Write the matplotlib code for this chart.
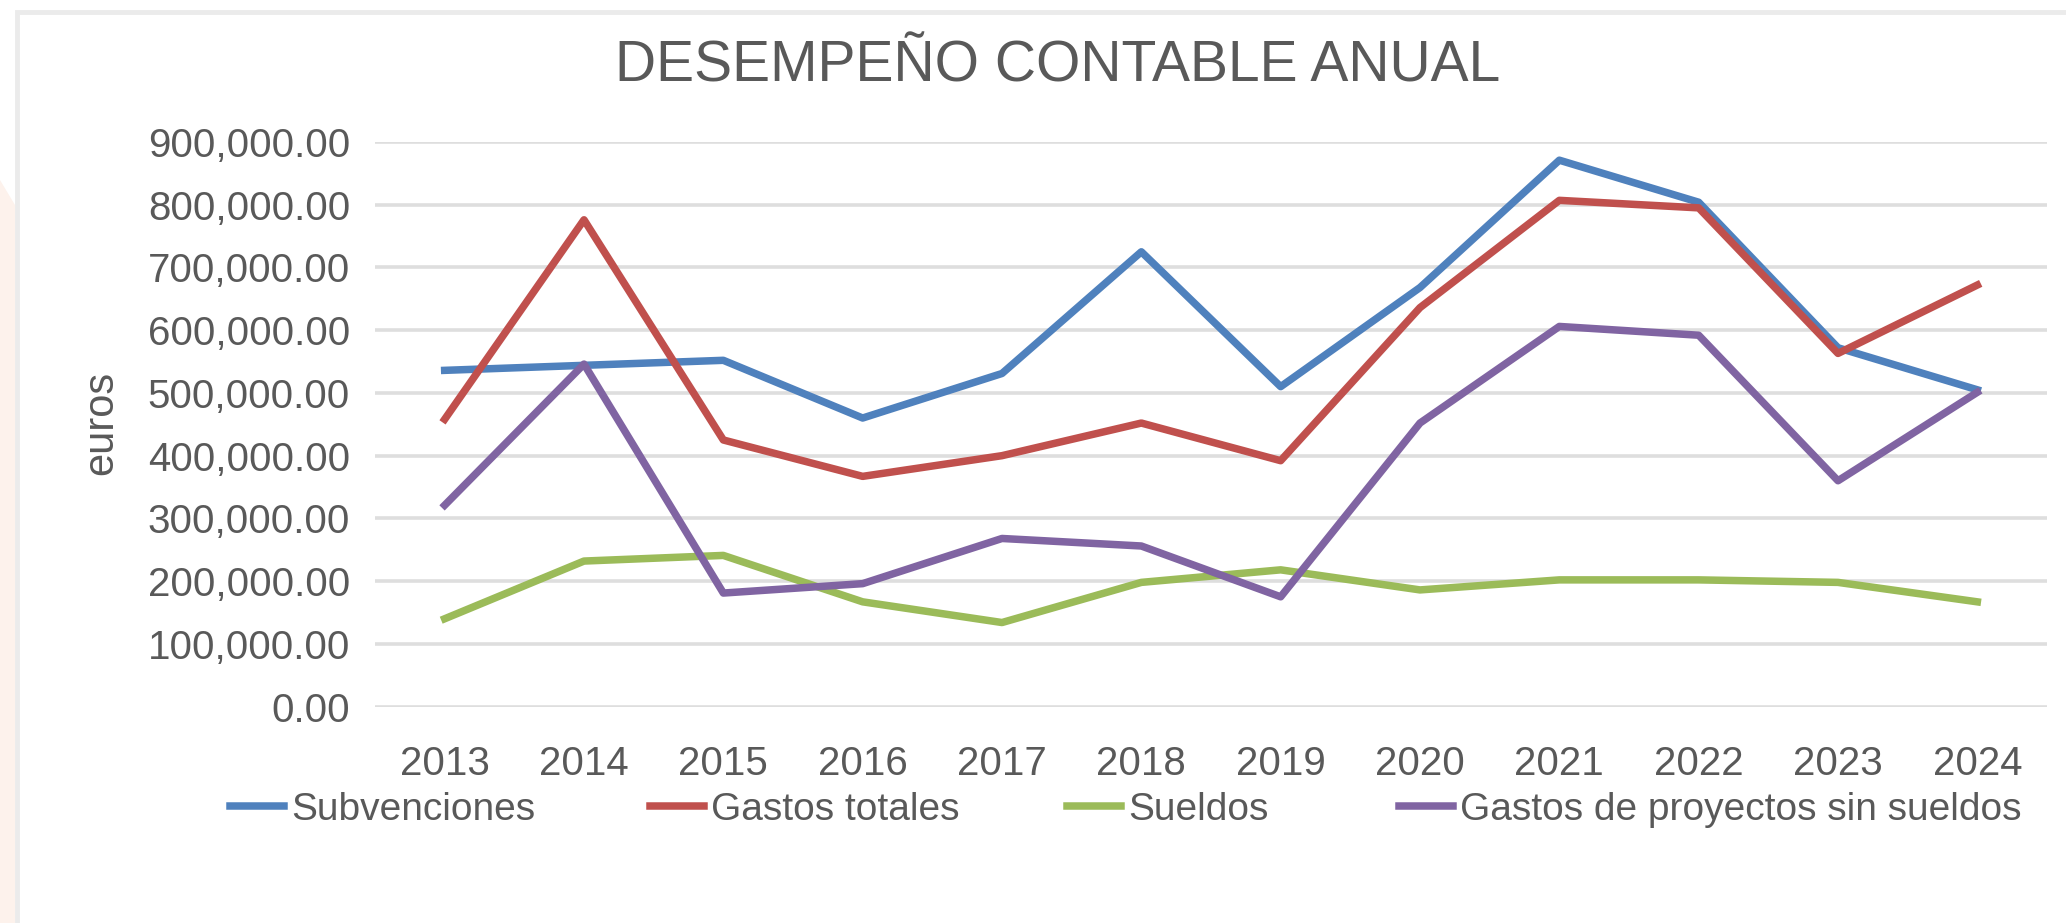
import matplotlib
matplotlib.use("Agg")
import matplotlib.pyplot as plt
from matplotlib.patches import Rectangle, Polygon
from matplotlib.ticker import FuncFormatter

# data
years = ["2013", "2014", "2015", "2016", "2017", "2018",
         "2019", "2020", "2021", "2022", "2023", "2024"]
subvenciones = [536000, 544000, 552000, 460000, 531000, 725000,
                510000, 668000, 871000, 804000, 572000, 505000]
gastos_totales = [458000, 776000, 425000, 367000, 400000, 452000,
                  392000, 636000, 807000, 795000, 563000, 672000]
sueldos = [140000, 232000, 241000, 167000, 134000, 198000,
           218000, 186000, 202000, 202000, 198000, 167000]
gastos_proyectos = [321000, 546000, 181000, 196000, 268000, 256000,
                    175000, 452000, 606000, 592000, 360000, 501000]
series_names = ["Subvenciones", "Gastos totales", "Sueldos",
                "Gastos de proyectos sin sueldos"]
colors = ["#4F81BD", "#C0504D", "#9BBB59", "#8064A2"]

plt.rcParams["font.family"] = ["Liberation Sans", "DejaVu Sans"]

W, H = 2066, 923
txt = "#595959"
fig = plt.figure(figsize=(W / 100, H / 100), dpi=100)

# peach strip on the far left and the light chart border
fig.patches.append(Polygon([(0, 1 - 180 / H), (15 / W, 1 - 205 / H), (15 / W, 0), (0, 0)],
                           closed=True, transform=fig.transFigure,
                           facecolor="#fdf2ec", edgecolor="none"))
fig.patches.append(Rectangle((17 / W, -0.1), 1.2, 1 - 12 / H + 0.1,
                             transform=fig.transFigure, facecolor="none",
                             edgecolor="#ebebeb", linewidth=3.5))

ax = fig.add_axes([375 / W, 1 - 706.6 / H, 1672 / W, 564.6 / H])
x = list(range(len(years)))
lines = []
for vals, name, c in zip([subvenciones, gastos_totales, sueldos, gastos_proyectos],
                         series_names, colors):
    ln, = ax.plot(x, vals, color=c, linewidth=5.4, label=name)
    lines.append(ln)

ax.set_xlim(-0.5, len(years) - 0.5)
ax.set_ylim(0, 900000)
ax.set_yticks(range(0, 900001, 100000))
ax.yaxis.set_major_formatter(FuncFormatter(lambda v, p: f"{v:,.2f}"))
ax.set_xticks(x)
ax.set_xticklabels(years)
ax.grid(axis="y", color="#dedede", linewidth=2.6)
ax.set_axisbelow(True)
for s in ax.spines.values():
    s.set_visible(False)
ax.tick_params(axis="both", length=0, labelsize=29, labelcolor=txt)
ax.tick_params(axis="y", pad=18)
ax.tick_params(axis="x", pad=28)

fig.text(1058 / W, 1 - 82 / H, "DESEMPEÑO CONTABLE ANUAL", ha="center", va="baseline",
         fontsize=41, color=txt)
fig.text(101 / W, 1 - 423 / H, "euros", rotation=90, ha="center", va="center",
         fontsize=30, color=txt)

# one legend entry per series, placed like the Excel legend row
legend_x = [230, 650, 1067, 1399]
for ln, lx in zip(lines, legend_x):
    fig.legend(handles=[ln], loc="center left",
               bbox_to_anchor=(lx / W, 1 - 810 / H), frameon=False,
               fontsize=28, labelcolor=txt, handlelength=1.4,
               handletextpad=0.18, borderpad=0, borderaxespad=0)

fig.savefig("out.png", dpi=100, facecolor="white")
